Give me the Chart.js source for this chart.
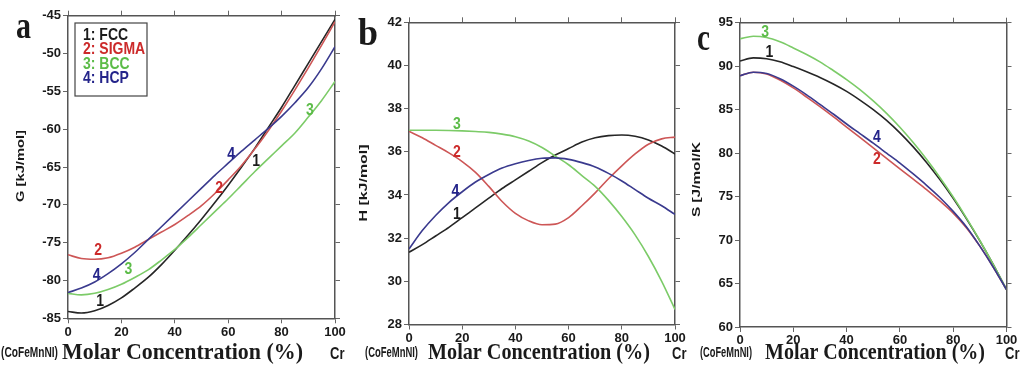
<!DOCTYPE html>
<html><head><meta charset="utf-8">
<script src="https://cdn.jsdelivr.net/npm/chart.js@4.4.1/dist/chart.umd.min.js"></script>
<style>
html,body{margin:0;padding:0;background:#fff;width:1021px;height:372px;overflow:hidden}
canvas{position:absolute;left:0;top:0}
</style></head><body>
<canvas id="ca" width="1021" height="372"></canvas>
<canvas id="cb" width="1021" height="372"></canvas>
<canvas id="cc" width="1021" height="372"></canvas>
<script>
// ---------- data ----------
const X = [0,5,10,15,20,25,30,35,40,45,50,55,60,65,70,75,80,85,90,95,100];
const X_TICKS = [0,20,40,60,80,100];
const SERIES = ['1: FCC','2: SIGMA','3: BCC','4: HCP'];

// panel a : Gibbs energy G [kJ/mol]
const G_FCC   = [-84.1,-84.3,-84.0,-83.3,-82.3,-81.0,-79.6,-77.9,-76.0,-74.0,-71.9,-69.7,-67.4,-65.0,-62.5,-59.8,-57.1,-54.2,-51.3,-48.4,-45.5];
const G_SIGMA = [-76.6,-77.1,-77.2,-77.0,-76.4,-75.6,-74.6,-73.6,-72.6,-71.4,-70.1,-68.5,-66.7,-64.8,-62.6,-60.2,-57.6,-54.8,-51.9,-48.9,-45.8];
const G_BCC   = [-81.7,-81.9,-81.7,-81.2,-80.5,-79.6,-78.6,-77.3,-75.9,-74.3,-72.6,-70.9,-69.2,-67.4,-65.6,-63.9,-62.2,-60.5,-58.4,-56.2,-53.7];
const G_HCP   = [-81.6,-81.0,-80.2,-79.1,-77.8,-76.3,-74.6,-72.9,-71.2,-69.5,-67.8,-66.1,-64.5,-62.9,-61.4,-59.9,-58.3,-56.5,-54.5,-52.0,-49.1];
const G_TICKS = [-85,-80,-75,-70,-65,-60,-55,-50,-45];

// panel b : enthalpy H [kJ/mol]
const H_FCC   = [31.35,31.7,32.1,32.5,32.95,33.4,33.85,34.3,34.7,35.1,35.5,35.85,36.15,36.45,36.65,36.75,36.78,36.72,36.55,36.27,35.9];
const H_SIGMA = [36.95,36.65,36.3,35.95,35.55,35.05,34.4,33.7,33.15,32.8,32.62,32.65,32.95,33.5,34.1,34.75,35.35,35.9,36.35,36.6,36.68];
const H_BCC   = [37.0,37.0,37.0,36.99,36.97,36.94,36.9,36.82,36.7,36.5,36.2,35.8,35.4,34.9,34.4,33.75,33.0,32.15,31.15,30.0,28.7];
const H_HCP   = [31.5,32.35,33.05,33.65,34.15,34.6,34.95,35.25,35.45,35.6,35.7,35.72,35.65,35.5,35.3,35.0,34.65,34.25,33.85,33.5,33.1];
const H_TICKS = [28,30,32,34,36,38,40,42];

// panel c : entropy S [J/mol/K]
const S_FCC   = [90.6,90.95,90.85,90.5,89.95,89.35,88.7,87.95,87.1,86.1,85.0,83.76,82.33,80.72,78.93,76.95,74.79,72.44,69.91,67.2,64.3];
const S_SIGMA = [88.9,89.3,89.1,88.4,87.5,86.45,85.35,84.2,83.0,81.8,80.6,79.4,78.2,77.0,75.8,74.5,73.1,71.4,69.3,66.9,64.3];
const S_BCC   = [93.15,93.45,93.3,92.8,92.1,91.35,90.5,89.5,88.45,87.3,86.0,84.57,82.97,81.21,79.29,77.2,74.95,72.53,69.95,67.2,64.3];
const S_HCP   = [88.9,89.3,89.15,88.55,87.7,86.7,85.6,84.5,83.35,82.25,81.15,80.0,78.85,77.6,76.3,74.9,73.3,71.5,69.3,66.9,64.3];
const S_TICKS = [60,65,70,75,80,85,90,95];

// curve number labels (series index, value coordinates)
const LABELS_A = [[1,11.3,-76.1],[3,10.7,-79.3],[2,22.6,-78.6],[0,12,-82.8],[3,61.1,-63.4],[1,56.6,-67.8],[0,70.5,-64.3],[2,90.6,-57.5]];
const LABELS_B = [[2,18,37.24],[1,18,35.95],[3,17.4,34.16],[0,18,33.07]];
const LABELS_C = [[2,9.4,93.9],[0,11,91.6],[3,51.4,81.8],[1,51.4,79.3]];

// ---------- styles ----------
const LINE_COLORS  = ['#262626','#cd5656','#7ccb68','#3a3a8e'];
const LABEL_COLORS = ['#1a1a1a','#cc2a2a','#5cbc48','#24248a'];
const SANS = '"Liberation Sans", Arial, sans-serif';
const SERIF = '"Liberation Serif", "Times New Roman", serif';

function drawText(ctx, t) {
  ctx.save();
  ctx.translate(t.x, t.y);
  if (t.rot) ctx.rotate(t.rot);
  ctx.font = t.font;
  ctx.fillStyle = t.color || '#1a1a1a';
  ctx.textBaseline = t.baseline || 'alphabetic';
  ctx.textAlign = t.align || 'left';
  const w = ctx.measureText(t.s).width;
  const sx = t.width ? t.width / w : 1;
  ctx.scale(sx, t.sy || 1);
  ctx.fillText(t.s, 0, 0);
  ctx.restore();
}

const decoPlugin = {
  id: 'deco',
  afterDraw(chart, args, o) {
    const ctx = chart.ctx, xs = chart.scales.x, ys = chart.scales.y;
    (o.texts || []).forEach(t => drawText(ctx, t));
    (o.labels || []).forEach(l => drawText(ctx, {
      s: String(l[0] + 1), x: xs.getPixelForValue(l[1]), y: ys.getPixelForValue(l[2]),
      font: 'bold 14px ' + SANS, color: LABEL_COLORS[l[0]], align: 'center', baseline: 'middle', sy: 1.15
    }));
    if (o.legend) {
      const L = o.legend;
      ctx.save();
      ctx.strokeStyle = '#444'; ctx.lineWidth = 1.2;
      ctx.strokeRect(L.x, L.y, L.w, L.h);
      ctx.restore();
      SERIES.forEach((s, i) => drawText(ctx, {
        s, x: L.x + 8, y: L.y + 16.5 + i * 14.6, font: 'bold 14px ' + SANS, color: LABEL_COLORS[i], sy: 1.15
      }));
    }
  }
};

function axisCommon(extra) {
  return Object.assign({
    type: 'linear',
    grid: { drawOnChartArea: false, drawTicks: true, tickLength: 5, color: '#666', lineWidth: 1 },
    border: { display: true, color: '#555', width: 1.5 },
  }, extra);
}

function makePanel(id, series, yTicks, box, labels, texts, legend) {
  const LW = 50, RW = 8, TH = 8, BH = 30;
  const tickFont = { family: SANS, weight: 'bold', size: 13 };
  const setTicks = arr => (scale) => { scale.ticks = arr.map(v => ({ value: v })); };
  new Chart(document.getElementById(id), {
    type: 'line',
    data: {
      datasets: series.map((ys, i) => ({
        label: SERIES[i],
        data: X.map((x, j) => ({ x, y: ys[j] })),
        borderColor: LINE_COLORS[i], borderWidth: 1.6,
        pointRadius: 0, tension: 0.4, cubicInterpolationMode: 'monotone', fill: false
      })).reverse()
    },
    options: {
      responsive: false, animation: false, devicePixelRatio: 1,
      layout: { padding: { left: box.L - LW, right: 1021 - box.R - RW, top: box.T - TH, bottom: 372 - box.B - BH } },
      plugins: { legend: { display: false }, tooltip: { enabled: false },
        deco: { labels, texts, legend } },
      scales: {
        x: axisCommon({ position: 'bottom', min: 0, max: 100,
          afterBuildTicks: setTicks(X_TICKS), afterFit: s => { s.height = BH; },
          ticks: { font: tickFont, color: '#1a1a1a', padding: 1, autoSkip: false, maxRotation: 0 } }),
        x2: axisCommon({ position: 'top', min: 0, max: 100,
          afterBuildTicks: setTicks(X_TICKS), afterFit: s => { s.height = TH; },
          ticks: { display: false } }),
        y: axisCommon({ position: 'left', min: yTicks[0], max: yTicks[yTicks.length - 1],
          afterBuildTicks: setTicks(yTicks), afterFit: s => { s.width = LW; },
          ticks: { font: tickFont, color: '#1a1a1a', padding: 2, autoSkip: false } }),
        y2: axisCommon({ position: 'right', min: yTicks[0], max: yTicks[yTicks.length - 1],
          afterBuildTicks: setTicks(yTicks), afterFit: s => { s.width = RW; },
          ticks: { display: false } })
      }
    },
    plugins: [decoPlugin]
  });
}

function panelTexts(letter, lx, lbase, lw, ytitle, ycx, ycy, ylen, c0, c0w, m0, mw, cr) {
  return [
    { s: letter, x: lx, y: lbase, font: 'bold 30px ' + SERIF, width: lw, sy: 1.25 },
    { s: ytitle, x: ycx, y: ycy, rot: -Math.PI / 2, font: 'bold 11px ' + SANS, align: 'center', baseline: 'middle', width: ylen },
    { s: '(CoFeMnNI)', x: c0, y: 357, font: 'bold 11px ' + SANS, width: c0w, sy: 1.3 },
    { s: 'Molar Concentration (%)', x: m0, y: 359, font: 'bold 17px ' + SERIF, width: mw, sy: 1.3 },
    { s: 'Cr', x: cr, y: 359, font: 'bold 13px ' + SANS, sy: 1.2 }
  ];
}

makePanel('ca', [G_FCC, G_SIGMA, G_BCC, G_HCP], G_TICKS,
  { L: 68, R: 335, T: 15.7, B: 318.3 }, LABELS_A,
  panelTexts('a', 16, 38, 15, 'G [kJ/mol]', 21, 166, 72, 1, 57, 62, 241, 330),
  { x: 75, y: 23, w: 72, h: 73 });

makePanel('cb', [H_FCC, H_SIGMA, H_BCC, H_HCP], H_TICKS,
  { L: 409, R: 675, T: 22.3, B: 324.5 }, LABELS_B,
  panelTexts('b', 358, 45, 20, 'H [kJ/mol]', 364, 183, 77, 365, 53, 428, 222, 672),
  null);

makePanel('cc', [S_FCC, S_SIGMA, S_BCC, S_HCP], S_TICKS,
  { L: 740, R: 1006.5, T: 22.7, B: 327 }, LABELS_C,
  panelTexts('c', 697, 50, 13, 'S [J/mol/K', 697, 179.5, 75, 700, 52, 765, 220, 1005),
  null);
</script>
</body></html>
